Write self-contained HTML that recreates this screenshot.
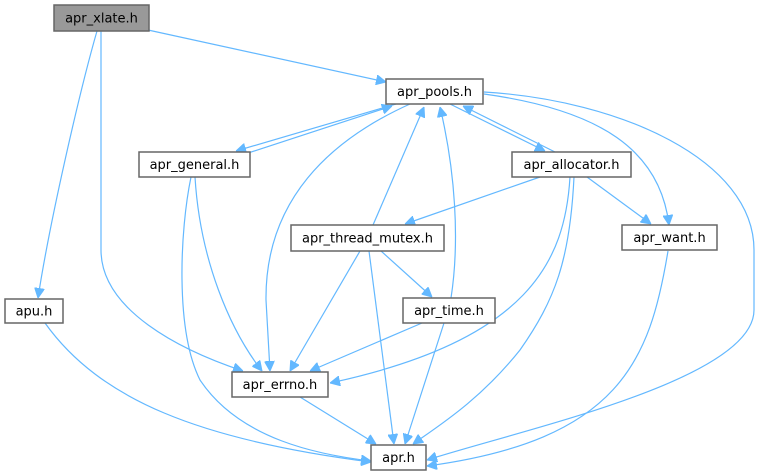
<!DOCTYPE html>
<html><head><meta charset="utf-8"><style>
html,body{margin:0;padding:0;background:#fff;width:760px;height:476px;overflow:hidden}
svg{display:block}
text{font-family:"DejaVu Sans","Liberation Sans",sans-serif;font-size:13px;fill:#000}
.e{fill:none;stroke:#63b8ff;stroke-width:1.2}
.n{fill:#fff;stroke:#666;stroke-width:1.5}
</style></head><body>
<svg width="760" height="476" viewBox="0 0 760 476" xmlns="http://www.w3.org/2000/svg">
<defs><marker id="a" viewBox="0 0 10 10" refX="10" refY="5" markerWidth="10" markerHeight="10" markerUnits="userSpaceOnUse" orient="auto"><path d="M0,0 L10,5 L0,10 z" fill="#63b8ff" stroke="#63b8ff"/></marker></defs>
<g marker-end="url(#a)">
<path class="e" d="M148,30 L386,82"/>
<path class="e" d="M97,31 C80,90 50,220 38,298"/>
<path class="e" d="M101,31 L101,250 C101,310 180,350 243,371"/>
<path class="e" d="M396,104 L236,151"/>
<path class="e" d="M242,155 L392,106"/>
<path class="e" d="M410,104 C330,140 265,200 266,300 L270,371"/>
<path class="e" d="M195,177 C200,260 230,330 262,371"/>
<path class="e" d="M191,177 C180,230 175,330 200,380 C240,440 320,455 371,461"/>
<path class="e" d="M373,225 L424,107"/>
<path class="e" d="M451,298 C460,240 455,170 440,107"/>
<path class="e" d="M450,104 L545,151"/>
<path class="e" d="M555,152 L463,106"/>
<path class="e" d="M484,94 C600,110 660,150 669,225"/>
<path class="e" d="M484,92 C620,100 754,160 754,250 L754,310 C754,380 520,430 427,460"/>
<path class="e" d="M540,177 L405,224"/>
<path class="e" d="M587,177 L651,224"/>
<path class="e" d="M570,177 C565,260 530,340 330,383"/>
<path class="e" d="M574,177 C570,260 555,300 520,350 C480,400 440,425 413,444"/>
<path class="e" d="M360,251 L290,371"/>
<path class="e" d="M369,251 L394,444"/>
<path class="e" d="M381,251 L432,297"/>
<path class="e" d="M422,323 L310,371"/>
<path class="e" d="M444,323 L405,444"/>
<path class="e" d="M300,397 L376,444"/>
<path class="e" d="M45,323 C100,400 200,440 371,462"/>
<path class="e" d="M668,251 C650,360 620,440 427,466"/>
</g>
<rect x="54" y="5" width="95" height="26" fill="#999" stroke="#666" stroke-width="1.5"/>
<text x="101.5" y="22.5" text-anchor="middle">apr_xlate.h</text>
<rect class="n" x="386" y="79" width="97" height="25"/><text x="434.5" y="96" text-anchor="middle">apr_pools.h</text>
<rect class="n" x="139" y="152" width="111" height="25"/><text x="194.5" y="169" text-anchor="middle">apr_general.h</text>
<rect class="n" x="512" y="152" width="119" height="25"/><text x="571.5" y="169" text-anchor="middle">apr_allocator.h</text>
<rect class="n" x="291" y="225" width="153" height="26"/><text x="367.5" y="242.5" text-anchor="middle">apr_thread_mutex.h</text>
<rect class="n" x="622" y="225" width="95" height="25"/><text x="669.5" y="242" text-anchor="middle">apr_want.h</text>
<rect class="n" x="5" y="299" width="58" height="24"/><text x="34" y="315.5" text-anchor="middle">apu.h</text>
<rect class="n" x="403" y="298" width="92" height="25"/><text x="449" y="315" text-anchor="middle">apr_time.h</text>
<rect class="n" x="232" y="372" width="96" height="25"/><text x="280" y="389" text-anchor="middle">apr_errno.h</text>
<rect class="n" x="371" y="445" width="55" height="25"/><text x="398.5" y="462" text-anchor="middle">apr.h</text>
</svg>
</body></html>
